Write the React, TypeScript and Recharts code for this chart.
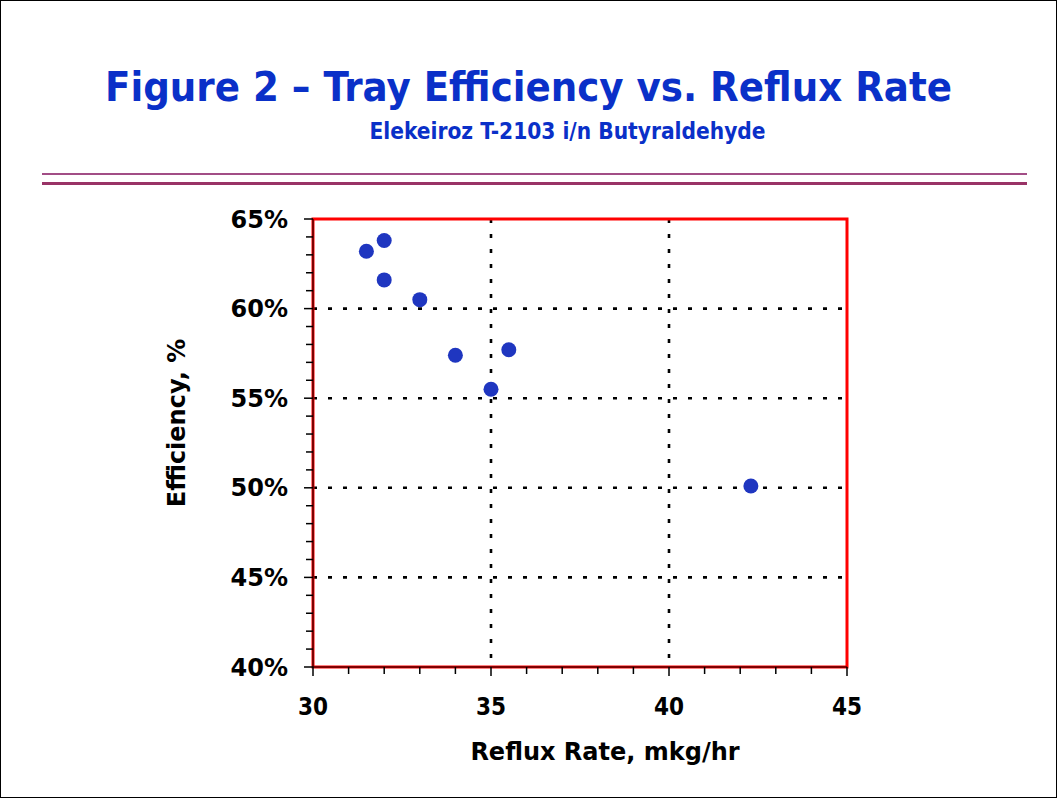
import { ScatterChart, Scatter, XAxis, YAxis, CartesianGrid, ReferenceArea, Label } from 'recharts';

const refluxRate = [31.5, 32, 32, 33, 34, 35.5, 35, 42.3];
const efficiency = [63.2, 63.8, 61.6, 60.5, 57.4, 57.7, 55.5, 50.1];

const xTicks = [30, 31, 32, 33, 34, 35, 36, 37, 38, 39, 40, 41, 42, 43, 44, 45];
const yTicks = [40, 41, 42, 43, 44, 45, 46, 47, 48, 49, 50, 51, 52, 53, 54, 55, 56, 57, 58, 59, 60, 61, 62, 63, 64, 65];
const xMajor = [30, 35, 40, 45];
const yMajor = [40, 45, 50, 55, 60, 65];
const xGrid = [35, 40];
const yGrid = [45, 50, 55, 60];

const title = 'Figure 2 – Tray Efficiency vs. Reflux Rate';
const subtitle = 'Elekeiroz T-2103 i/n Butyraldehyde';
const xTitle = 'Reflux Rate, mkg/hr';
const yTitle = 'Efficiency, %';

const BLUE = '#0a30c8';
const NARROW = "'DejaVu Sans Condensed', 'DejaVu Sans', sans-serif";
const WIDE = "'DejaVu Sans', Verdana, sans-serif";

const data = refluxRate.map((x, i) => ({ x, y: efficiency[i] }));

function YTick({ x, y, payload }: any) {
  const major = yMajor.includes(payload.value);
  return (
    <g>
      <line x1={x - (major ? 9 : 7)} x2={x} y1={y} y2={y} stroke="#000" strokeWidth={1.5} />
      {major && (
        <text x={x - 25} y={y} dy="0.36em" textAnchor="end" fontFamily={WIDE} fontWeight="bold" fontSize={24} fill="#000">
          {payload.value}%
        </text>
      )}
    </g>
  );
}

function XTick({ x, y, payload }: any) {
  const major = xMajor.includes(payload.value);
  return (
    <g>
      <line x1={x} x2={x} y1={y} y2={y + (major ? 9 : 7)} stroke="#000" strokeWidth={1.5} />
      {major && (
        <text x={x} y={y + 48} textAnchor="middle" fontFamily={NARROW} fontWeight="bold" fontSize={24} fill="#000">
          {payload.value}
        </text>
      )}
    </g>
  );
}

function YTitle({ viewBox }: any) {
  const bx = viewBox.x + 22;
  const cy = viewBox.y + viewBox.height / 2 - 20;
  return (
    <text x={bx} y={cy} transform={`rotate(-90 ${bx} ${cy})`} textAnchor="middle" fontFamily={WIDE} fontWeight="bold" fontSize={24} fill="#000">
      {yTitle}
    </text>
  );
}

function XTitle({ viewBox }: any) {
  const cx = viewBox.x + viewBox.width / 2 + 25;
  const by = viewBox.y + 93;
  return (
    <text x={cx} y={by} textAnchor="middle" fontFamily={WIDE} fontWeight="bold" fontSize={24} fill="#000">
      {xTitle}
    </text>
  );
}

export default function App() {
  return (
    <div style={{ position: 'absolute', left: 0, top: 0, width: 1057, height: 798, background: '#fff', overflow: 'hidden' }}>
      <div style={{ position: 'absolute', left: 0, top: 0, width: 1057, height: 798, boxSizing: 'border-box', border: '1px solid #000' }} />
      <div style={{ position: 'absolute', left: 0, top: 67, width: 1057, textAlign: 'center', fontFamily: NARROW, fontWeight: 'bold', fontSize: 41.4, lineHeight: 1, color: BLUE }}>
        {title}
      </div>
      <div style={{ position: 'absolute', left: 39, top: 120, width: 1057, textAlign: 'center', fontFamily: NARROW, fontWeight: 'bold', fontSize: 22.5, lineHeight: 1, color: BLUE }}>
        {subtitle}
      </div>
      <div style={{ position: 'absolute', left: 42, top: 173, width: 985, height: 2, background: '#a24d86' }} />
      <div style={{ position: 'absolute', left: 42, top: 182, width: 985, height: 3, background: '#993366' }} />
      <div style={{ position: 'absolute', left: 0, top: 0 }}>
        <ScatterChart width={1057} height={798} margin={{ top: 219, right: 210, bottom: 71, left: 163 }}>
          <CartesianGrid horizontalValues={yGrid} verticalValues={xGrid} stroke="#000" strokeDasharray="4 11" strokeWidth={2.6} />
          <XAxis
            type="number"
            dataKey="x"
            domain={[30, 45]}
            ticks={xTicks}
            interval={0}
            height={60}
            tickSize={0}
            tickMargin={0}
            tick={<XTick />}
            axisLine={{ stroke: '#000', strokeWidth: 1 }}
          >
            <Label content={<XTitle />} />
          </XAxis>
          <YAxis
            type="number"
            dataKey="y"
            domain={[40, 65]}
            ticks={yTicks}
            interval={0}
            width={150}
            tickSize={0}
            tickMargin={0}
            tick={<YTick />}
            axisLine={{ stroke: '#000', strokeWidth: 1 }}
          >
            <Label content={<YTitle />} />
          </YAxis>
          <ReferenceArea x1={30} x2={45} y1={40} y2={65} fill="none" stroke="#ff0000" strokeWidth={3} ifOverflow="visible" />
          <Scatter
            data={data}
            isAnimationActive={false}
            shape={(p: any) => <circle cx={p.cx} cy={p.cy} r={7.5} fill="#1f36c0" />}
          />
        </ScatterChart>
      </div>
    </div>
  );
}
